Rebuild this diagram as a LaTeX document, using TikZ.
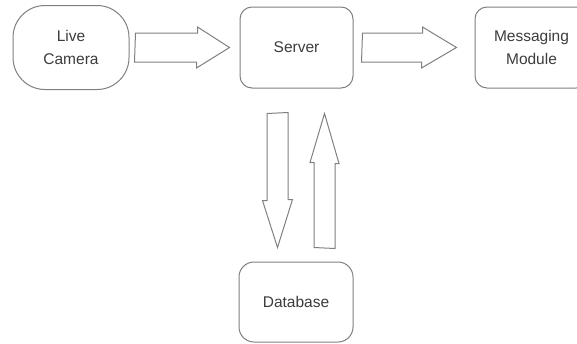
\documentclass[tikz,border=0pt]{standalone}
\usepackage{fontspec}
\setmainfont{Liberation Sans}
\usepackage{xcolor}
\usepackage{tikz}
\usetikzlibrary{calc}
\definecolor{edge}{HTML}{808080}
\definecolor{ink}{HTML}{3C3C3C}
\tikzset{
  box/.style={draw=edge, line width=1pt, rounded corners=12pt, align=center,
    minimum width=113pt, minimum height=81pt, inner sep=0pt, text=ink,
    font=\fontsize{15.5}{23.5}\selectfont},
  cambox/.style={box, rounded corners=32pt, minimum width=116pt, minimum height=84pt},
  blk/.style={draw=edge, line width=1pt, line join=miter},
}
\begin{document}
\begin{tikzpicture}[x=1pt,y=-1pt]
  \useasboundingbox (0,0) rectangle (577,343);

  \node[cambox] (cam) at (71,47.5) {Live\\Camera};
  \node[box] (srv) at (296.5,47.5) {Server};
  \node[box] (msg) at (531.5,47.5) {Messaging\\Module};
  \node[box, rounded corners=15pt, minimum width=114pt, minimum height=80pt] (db) at (296,302) {Database};

  % horizontal block arrows
  \coordinate (a1s) at ($(cam.east)+(6,0)$);
  \coordinate (a1e) at ($(srv.west)+(-10,0)$);
  \coordinate (a2s) at ($(srv.east)+(9,0)$);
  \coordinate (a2e) at ($(msg.west)+(-18,0)$);
  \draw[blk] ($(a1s)+(0,-14.5)$) -- ++(62,0) -- ++(0,-6) -- (a1e) -- ++(-33,20.5) -- ++(0,-6) -- ++(-62,0) -- cycle;
  \draw[blk] ($(a2s)+(0,-14.5)$) -- ++(60,0) -- ++(0,-6) -- (a2e) -- ++(-35,20.5) -- ++(0,-6) -- ++(-60,0) -- cycle;

  % vertical block arrows
  \coordinate (d1s) at ($(srv.south)+(-19,25)$);
  \coordinate (d1e) at ($(db.north)+(-18.5,-14)$);
  \coordinate (u1s) at ($(db.north)+(28.5,-14)$);
  \coordinate (u1e) at ($(srv.south)+(28,25)$);
  \draw[blk] ($(d1s)+(-10.5,0)$) -- ++(0,87) -- ++(-4.5,0) -- (d1e) -- ++(15,-48) -- ++(-4.5,0) -- ++(0,-87) -- cycle;
  \draw[blk] ($(u1s)+(-10.5,0)$) -- ++(0,-85) -- ++(-4,0) -- (u1e) -- ++(14.5,50) -- ++(-4,0) -- ++(0,85) -- cycle;
\end{tikzpicture}
\end{document}
